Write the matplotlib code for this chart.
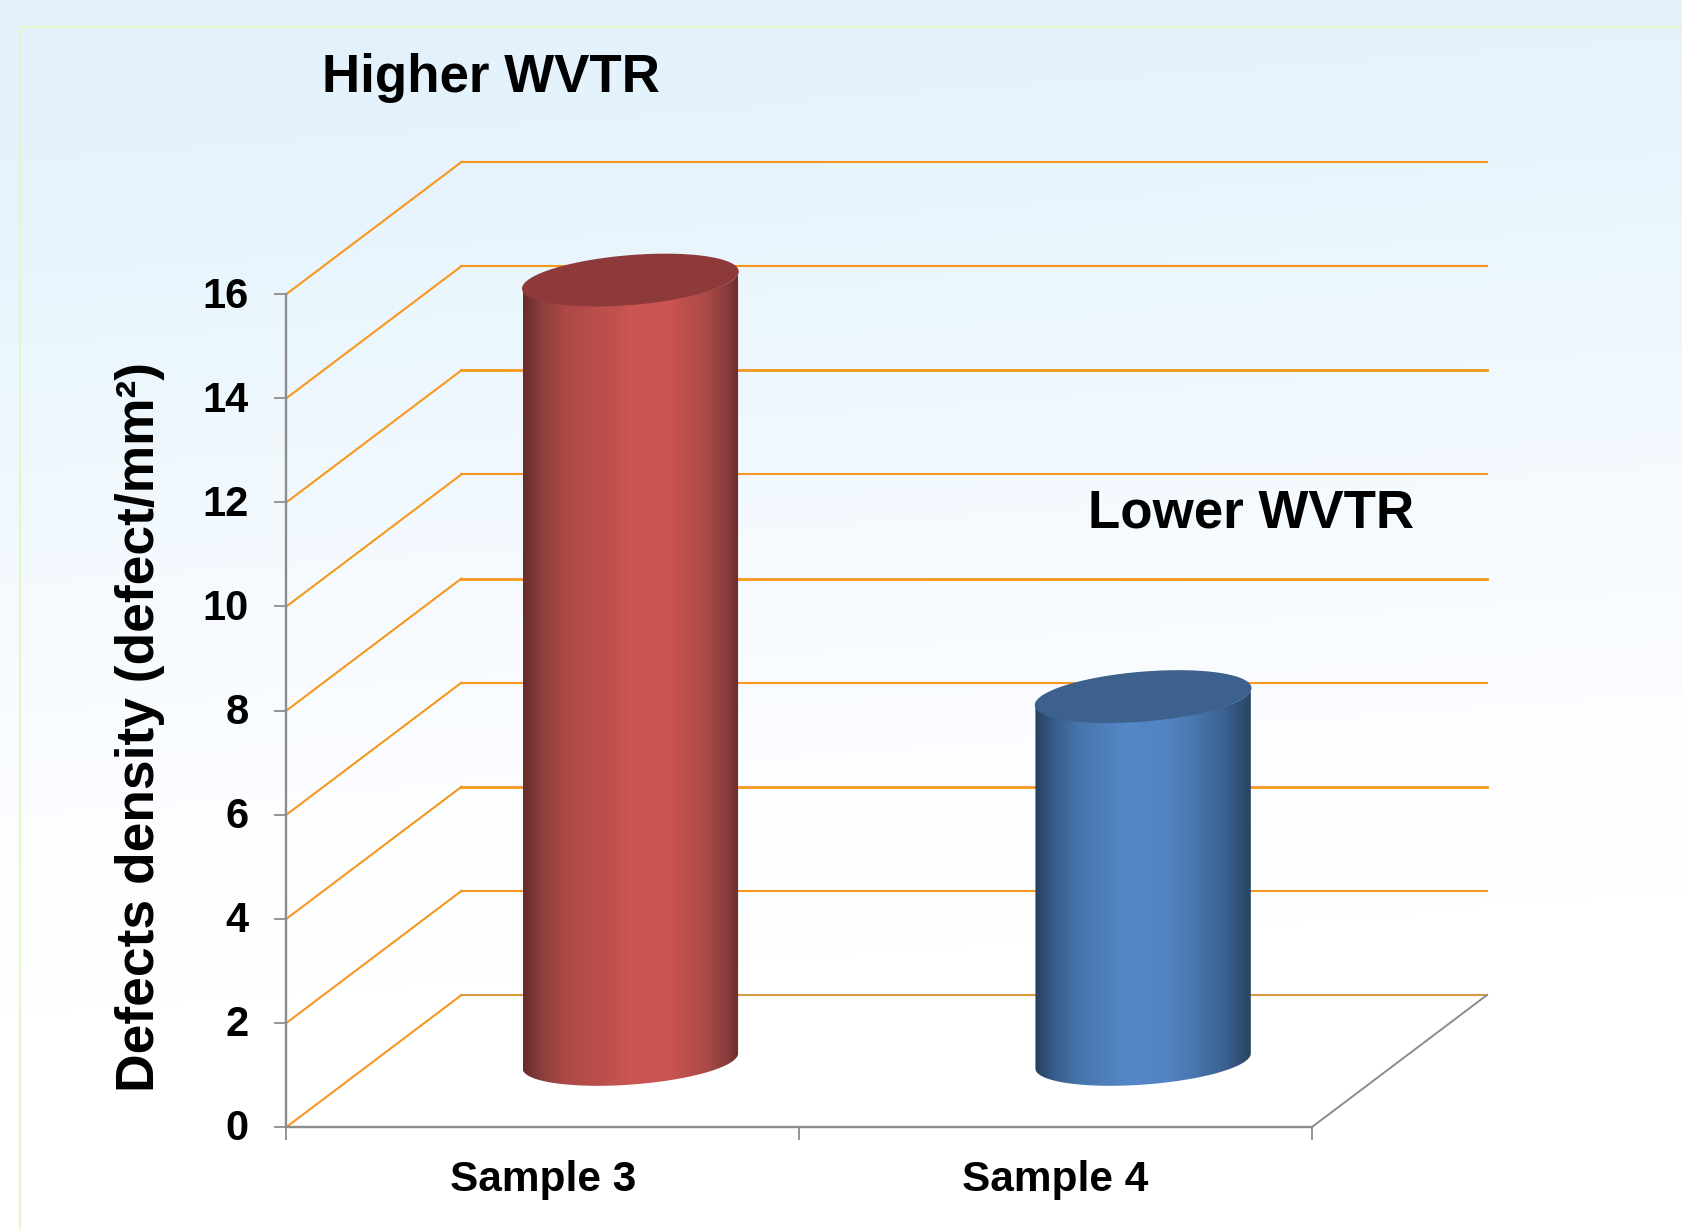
import numpy as np
import matplotlib
matplotlib.use('Agg')
import matplotlib.pyplot as plt
from matplotlib.colors import LinearSegmentedColormap
from matplotlib.patches import Polygon
from matplotlib.transforms import ScaledTranslation

plt.rcParams['font.family'] = ['Liberation Sans', 'DejaVu Sans']
plt.rcParams['font.weight'] = 'bold'

# data
categories = ['Sample 3', 'Sample 4']
values = [15, 7]
y_ticks = [0, 2, 4, 6, 8, 10, 12, 14, 16]
annotations = ['Higher WVTR', 'Lower WVTR']
y_title = 'Defects density (defect/mm\u00b2)'

W, H = 1683, 1229
fig = plt.figure(figsize=(W / 100, H / 100), dpi=100)

# background gradient
bg = fig.add_axes([0, 0, 1, 1], zorder=0)
yy, xx = np.mgrid[0:1:300j, 0:1:300j]
grad = np.clip(yy * 1.0 + 0.10 * xx - 0.03, 0, 1)
bg_cmap = LinearSegmentedColormap.from_list('bg', [(0, '#e2f1fc'), (0.25, '#ebf6fd'), (0.55, '#f9fcff'), (0.8, '#ffffff'), (1, '#ffffff')])
bg.imshow(grad, cmap=bg_cmap, vmin=0, vmax=1, aspect='auto', extent=(0, W, H, 0))
bg.plot([W, 20.5, 20.5], [27, 27, H], color='#e2f7cc', lw=1.6)
bg.set_xlim(0, W)
bg.set_ylim(H, 0)
bg.axis('off')

# main axes = front plane of the 3d box
left, right, top, bottom = 286.5, 1312, 294, 1127
ax = fig.add_axes([left / W, 1 - bottom / H, (right - left) / W, (bottom - top) / H], zorder=1)
ax.patch.set_alpha(0)
ax.set_xlim(0, 2)
ax.set_ylim(0, 16)

# depth vector of the box, in data units
DX = 175 / ((right - left) / 2)
DY = 132 / ((bottom - top) / 16)
ORANGE = '#f7971e'
GRAY = '#8c8c8c'

# grid on the walls
for v in y_ticks:
    lw = 2.0 if v in (4, 8, 12) else 1.5
    c = '#d99a3e' if v == 0 else ORANGE
    ax.plot([0, DX], [v, v + DY], color=ORANGE, lw=1.5, clip_on=False, zorder=2)
    ax.plot([DX, 2 + DX], [v + DY, v + DY], color=c, lw=lw, clip_on=False, zorder=2)
ax.plot([2, 2 + DX], [0, DY], color=GRAY, lw=1.4, clip_on=False, zorder=2)

# cylinders
R1 = 0.2
R2 = 0.188
R2_cap = 0.2
bar_cmaps = [
    LinearSegmentedColormap.from_list('red', [(0, '#672c2c'), (0.08, '#8a3d3c'), (0.2, '#ae4947'), (0.42, '#c0514e'), (0.5, '#cc5653'), (0.68, '#c95451'), (0.85, '#ab4a48'), (0.95, '#863c3b'), (1, '#692d2d')]),
    LinearSegmentedColormap.from_list('blue', [(0, '#25405f'), (0.08, '#365b86'), (0.2, '#4675ac'), (0.42, '#5487c6'), (0.6, '#5184c2'), (0.72, '#4a79b2'), (0.88, '#3a618f'), (1, '#294565')]),
]
cap_colors = ['#8f3a3a', '#3c618c']
t0 = np.arctan2(R2 * DX, R1)
ramp = np.linspace(0, 1, 256).reshape(1, -1)

for i, val in enumerate(values):
    cx = i + 0.5 + 0.5 * DX
    cy = 0.5 * DY
    half = np.hypot(R1, R2 * DX)
    # base arc and top arc
    ta = np.linspace(t0, t0 - np.pi, 80)
    tb = np.linspace(t0 - np.pi, t0, 80)
    xs = np.r_[cx + R1 * np.cos(ta) + R2 * DX * np.sin(ta), cx + R1 * np.cos(tb) + R2 * DX * np.sin(tb)]
    ys = np.r_[cy + R2 * DY * np.sin(ta), cy + val + R2 * DY * np.sin(tb)]
    body = Polygon(np.c_[xs, ys], closed=True, transform=ax.transData, fc='none', ec='none', clip_on=False)
    ax.add_patch(body)
    im = ax.imshow(ramp, cmap=bar_cmaps[i], aspect='auto', extent=(cx - half, cx + half, 0, 16 + DY),
                   zorder=3, interpolation='bilinear')
    im.set_clip_path(body)
    im.set_clip_box(fig.bbox)  # the red bar's top goes past the axes box
    t = np.linspace(0, 2 * np.pi, 160)
    ax.fill(cx + R1 * np.cos(t) + R2_cap * DX * np.sin(t), cy + val + R2_cap * DY * np.sin(t),
            color=cap_colors[i], lw=0, zorder=4, clip_on=False)
ax.set_xlim(0, 2)
ax.set_ylim(0, 16)

# axes, ticks and labels
for s in ('top', 'right'):
    ax.spines[s].set_visible(False)
for s in ('left', 'bottom'):
    ax.spines[s].set_color(GRAY)
    ax.spines[s].set_linewidth(1.7)
    ax.spines[s].set_zorder(5)
ax.set_yticks(y_ticks)
ax.set_yticklabels([str(v) for v in y_ticks], fontsize=30, fontweight='bold')
ax.tick_params(axis='y', length=9, width=1.3, color=GRAY, pad=18)
for lbl in ax.get_yticklabels():
    lbl.set_transform(lbl.get_transform() + ScaledTranslation(0, 2 / 100, fig.dpi_scale_trans))
ax.set_xticks([0, 1, 2])
ax.set_xticklabels([])
ax.set_xticks([0.5, 1.5], minor=True)
ax.set_xticklabels(categories, minor=True, fontsize=30.5, fontweight='bold')
ax.tick_params(axis='x', which='major', length=9, width=1.3, color=GRAY)
ax.tick_params(axis='x', which='minor', length=0, pad=23.5)

fig.text(140 / W, 1 - 727 / H, y_title, rotation=90, ha='center', va='center', fontsize=38.4, fontweight='bold', zorder=6)
fig.text(322 / W, 1 - 92 / H, annotations[0], ha='left', va='baseline', fontsize=38.1, fontweight='bold', zorder=6)
fig.text(1088 / W, 1 - 528 / H, annotations[1], ha='left', va='baseline', fontsize=38.1, fontweight='bold', zorder=6)

fig.savefig('out.png', dpi=100)
